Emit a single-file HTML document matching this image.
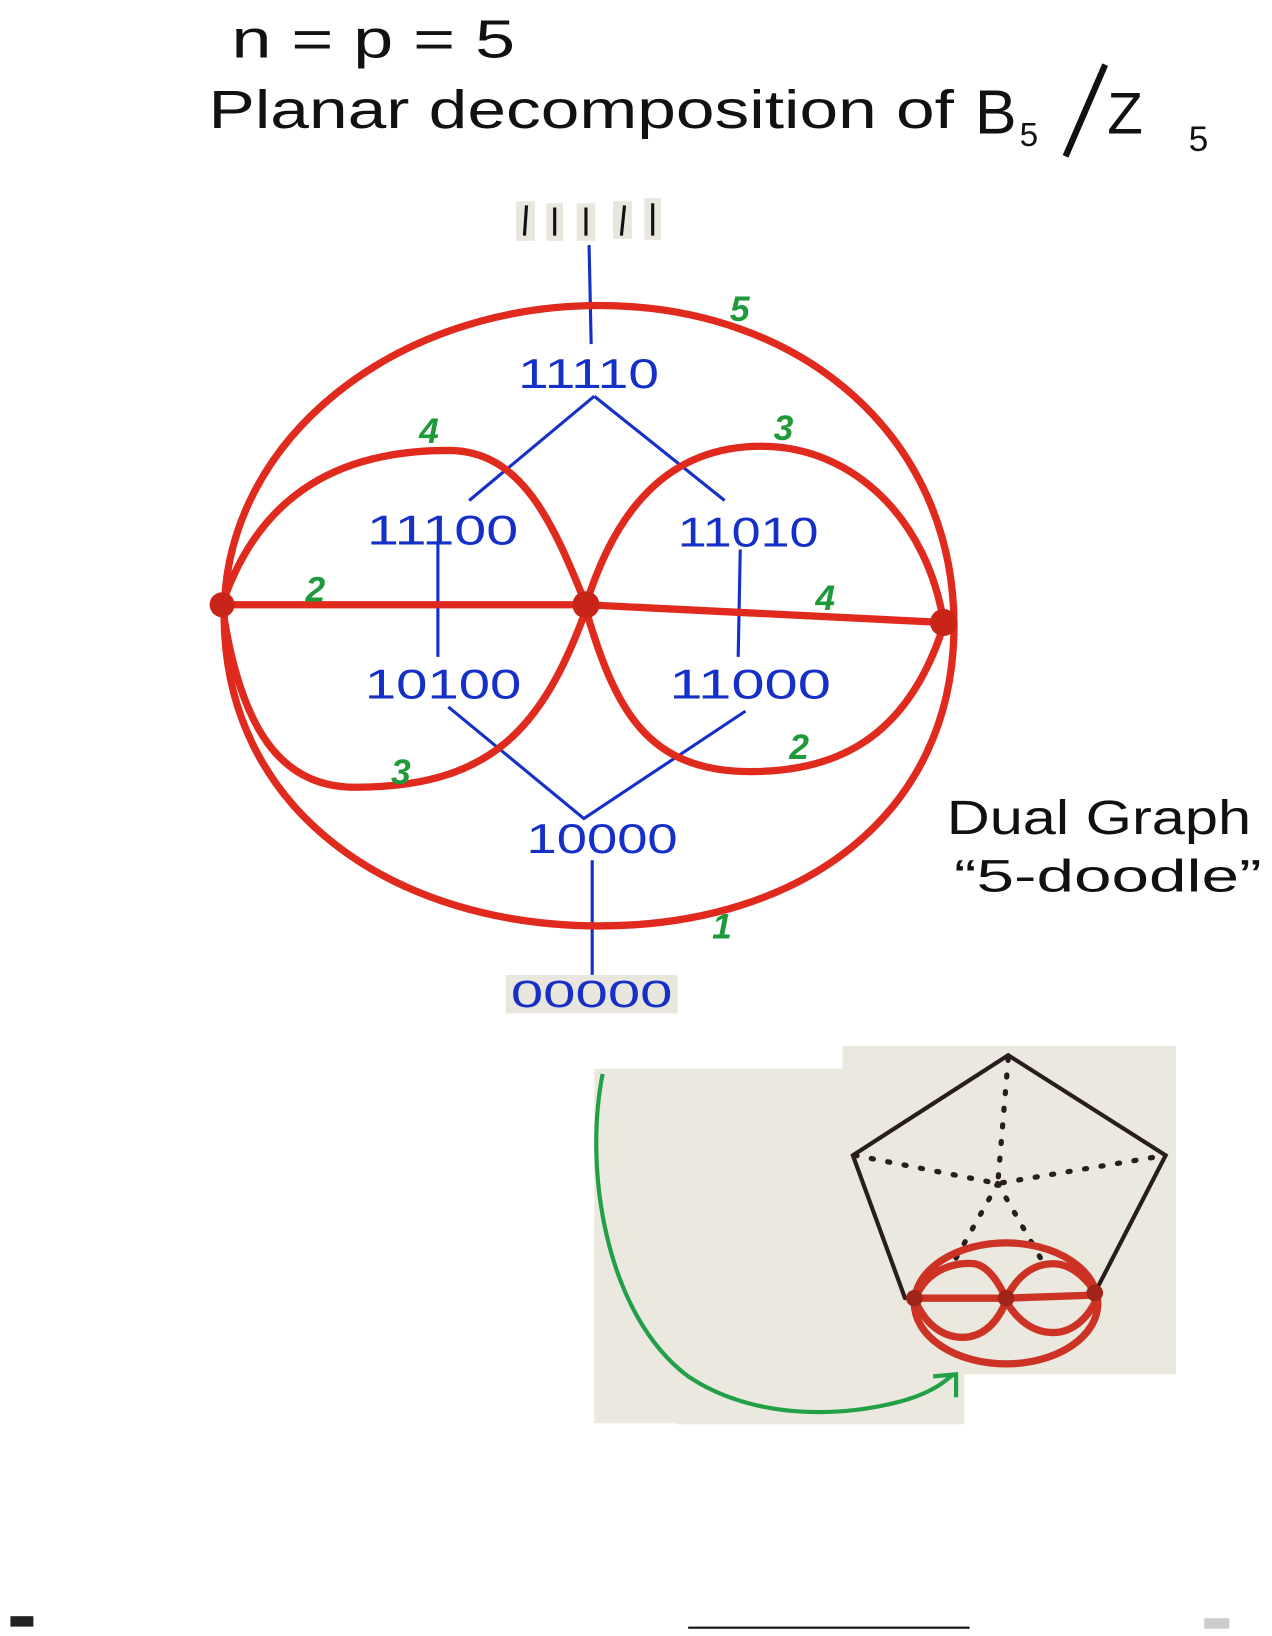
<!DOCTYPE html>
<html><head><style>
html,body{margin:0;padding:0;background:#fff;}
svg{display:block;}
text{font-family:"Liberation Sans",sans-serif;}
</style></head><body>
<svg width="1272" height="1636" viewBox="0 0 1220 1569" preserveAspectRatio="none" xmlns="http://www.w3.org/2000/svg">
<rect width="1220" height="1569" fill="#fff"/>
<!-- title -->
<text x="222" y="55" font-size="52" fill="#111" textLength="272" lengthAdjust="spacingAndGlyphs">n = p = 5</text>
<text x="200" y="123" font-size="52" fill="#111" textLength="715" lengthAdjust="spacingAndGlyphs">Planar decomposition of</text>
<text x="935" y="128" font-size="60" fill="#111">B</text>
<text x="978" y="140" font-size="32" fill="#111">5</text>
<line x1="1022" y1="150" x2="1060" y2="62" stroke="#111" stroke-width="6"/>
<text x="1062" y="128" font-size="56" fill="#111">Z</text>
<text x="1140" y="145" font-size="34" fill="#111">5</text>

<!-- 11111 -->
<g fill="#e9e6de">
<rect x="495" y="193" width="18" height="38"/><rect x="524" y="195" width="16" height="36"/>
<rect x="553" y="195" width="18" height="36"/><rect x="588" y="193" width="18" height="36"/><rect x="618" y="190" width="16" height="40"/>
</g>
<g stroke="#111" stroke-width="3">
<line x1="505" y1="197" x2="503" y2="226"/><line x1="532" y1="199" x2="532" y2="226"/>
<line x1="562" y1="199" x2="562" y2="226"/><line x1="599" y1="197" x2="596" y2="226"/><line x1="626" y1="195" x2="626" y2="226"/>
</g>

<!-- Blue lines -->
<g stroke="#1530c8" stroke-width="3" fill="none">
<path d="M565 235 L567 330"/>
<path d="M570 380 L450 480"/><path d="M570 380 L695 480"/>
<path d="M420 520 L420 630"/><path d="M710 527 L708 630"/>
<path d="M430 678 L560 785 L715 682"/>
<path d="M568 825 L568 935"/>
</g>

<!-- red -->
<g stroke="#e02a1e" stroke-width="7" fill="none" stroke-linecap="round">
<path d="M215 590 C215 420 380 293 575 293 C770 293 915 420 915 600 C915 780 770 888 575 888 C380 888 215 780 215 590 Z"/>
<path d="M213 580 L562 580 L905 597"/>
<path d="M213 580 C250 470 330 432 430 432 C500 432 530 500 562 580"/>
<path d="M213 580 C230 700 270 755 340 755 C470 755 520 700 562 585"/>
<path d="M562 580 C590 490 640 428 730 428 C820 428 890 500 905 597"/>
<path d="M562 585 C590 680 620 740 720 740 C800 740 870 710 905 600"/>
</g>
<g fill="#c82418"><circle cx="213" cy="580" r="12"/><circle cx="562" cy="580" r="13"/><circle cx="905" cy="597" r="13"/></g>

<!-- green numbers -->
<g fill="#1f9a3a" font-size="34" font-weight="bold" font-style="italic">
<text x="700" y="308">5</text><text x="402" y="425">4</text><text x="742" y="422">3</text>
<text x="293" y="577">2</text><text x="782" y="585">4</text><text x="375" y="752">3</text>
<text x="757" y="728">2</text><text x="683" y="900">1</text>
</g>

<!-- blue labels -->
<g fill="#1530c8" font-size="40" lengthAdjust="spacingAndGlyphs">
<text x="497" y="372" textLength="135" lengthAdjust="spacingAndGlyphs">11110</text>
<text x="352" y="522" textLength="145" lengthAdjust="spacingAndGlyphs">11100</text>
<text x="650" y="524" textLength="135" lengthAdjust="spacingAndGlyphs">11010</text>
<text x="350" y="670" textLength="150" lengthAdjust="spacingAndGlyphs">10100</text>
<text x="642" y="670" textLength="155" lengthAdjust="spacingAndGlyphs">11000</text>
<text x="505" y="818" textLength="145" lengthAdjust="spacingAndGlyphs">10000</text>
</g>
<rect x="485" y="935" width="165" height="37" fill="#e9e6de"/>
<text x="490" y="966" fill="#1530c8" font-size="36" textLength="155" lengthAdjust="spacingAndGlyphs">00000</text>

<!-- Dual graph -->
<text x="908" y="800" font-size="46" fill="#111" textLength="292" lengthAdjust="spacingAndGlyphs">Dual Graph</text>
<text x="915" y="855" font-size="44" fill="#111" textLength="295" lengthAdjust="spacingAndGlyphs">“5-doodle”</text>

<!-- lower bg -->
<g fill="#ebe8df">
<rect x="570" y="1025" width="240" height="340"/>
<rect x="808" y="1003" width="320" height="315"/>
<rect x="648" y="1318" width="277" height="48"/>
</g>
<!-- pentagon -->
<g stroke="#2a1d1d" stroke-width="4" fill="none" stroke-linecap="round">
<path d="M868 1245 L818 1108 L967 1012 L1118 1108 L1050 1240"/>
</g>
<g stroke="#2a1d1d" stroke-width="5" fill="none" stroke-dasharray="2 14" stroke-linecap="round">
<path d="M967 1015 L957 1135"/>
<path d="M820 1108 L957 1135 L1118 1108"/>
<path d="M957 1135 L915 1210"/>
<path d="M957 1135 L1000 1210"/>
</g>
<!-- small red doodle -->
<g stroke="#cc3325" stroke-width="7" fill="none">
<ellipse cx="965" cy="1250" rx="88" ry="58"/>
<path d="M878 1245 L965 1245 L1052 1242"/>
<path d="M878 1245 C890 1215 920 1210 935 1212 C950 1215 960 1235 965 1245 C975 1225 990 1212 1010 1212 C1030 1212 1045 1230 1052 1242"/>
<path d="M878 1248 C890 1275 910 1285 930 1282 C950 1278 960 1260 965 1248 C975 1265 990 1278 1010 1278 C1030 1278 1045 1262 1052 1245"/>
</g>
<g fill="#a02418"><circle cx="877" cy="1245" r="8"/><circle cx="965" cy="1245" r="8"/><circle cx="1050" cy="1240" r="8"/></g>
<!-- green arrow -->
<path d="M578 1030 C560 1120 580 1260 660 1320 C720 1360 800 1360 860 1345 C900 1335 910 1320 915 1318" stroke="#22a046" stroke-width="4" fill="none"/>
<path d="M895 1320 L917 1318 L917 1340" stroke="#22a046" stroke-width="4" fill="none"/>

<!-- bottom marks -->
<line x1="660" y1="1561" x2="930" y2="1561" stroke="#111" stroke-width="2"/>
<rect x="10" y="1550" width="22" height="10" fill="#222"/>
<rect x="1155" y="1552" width="24" height="10" fill="#ccc"/>
</svg>
</body></html>
